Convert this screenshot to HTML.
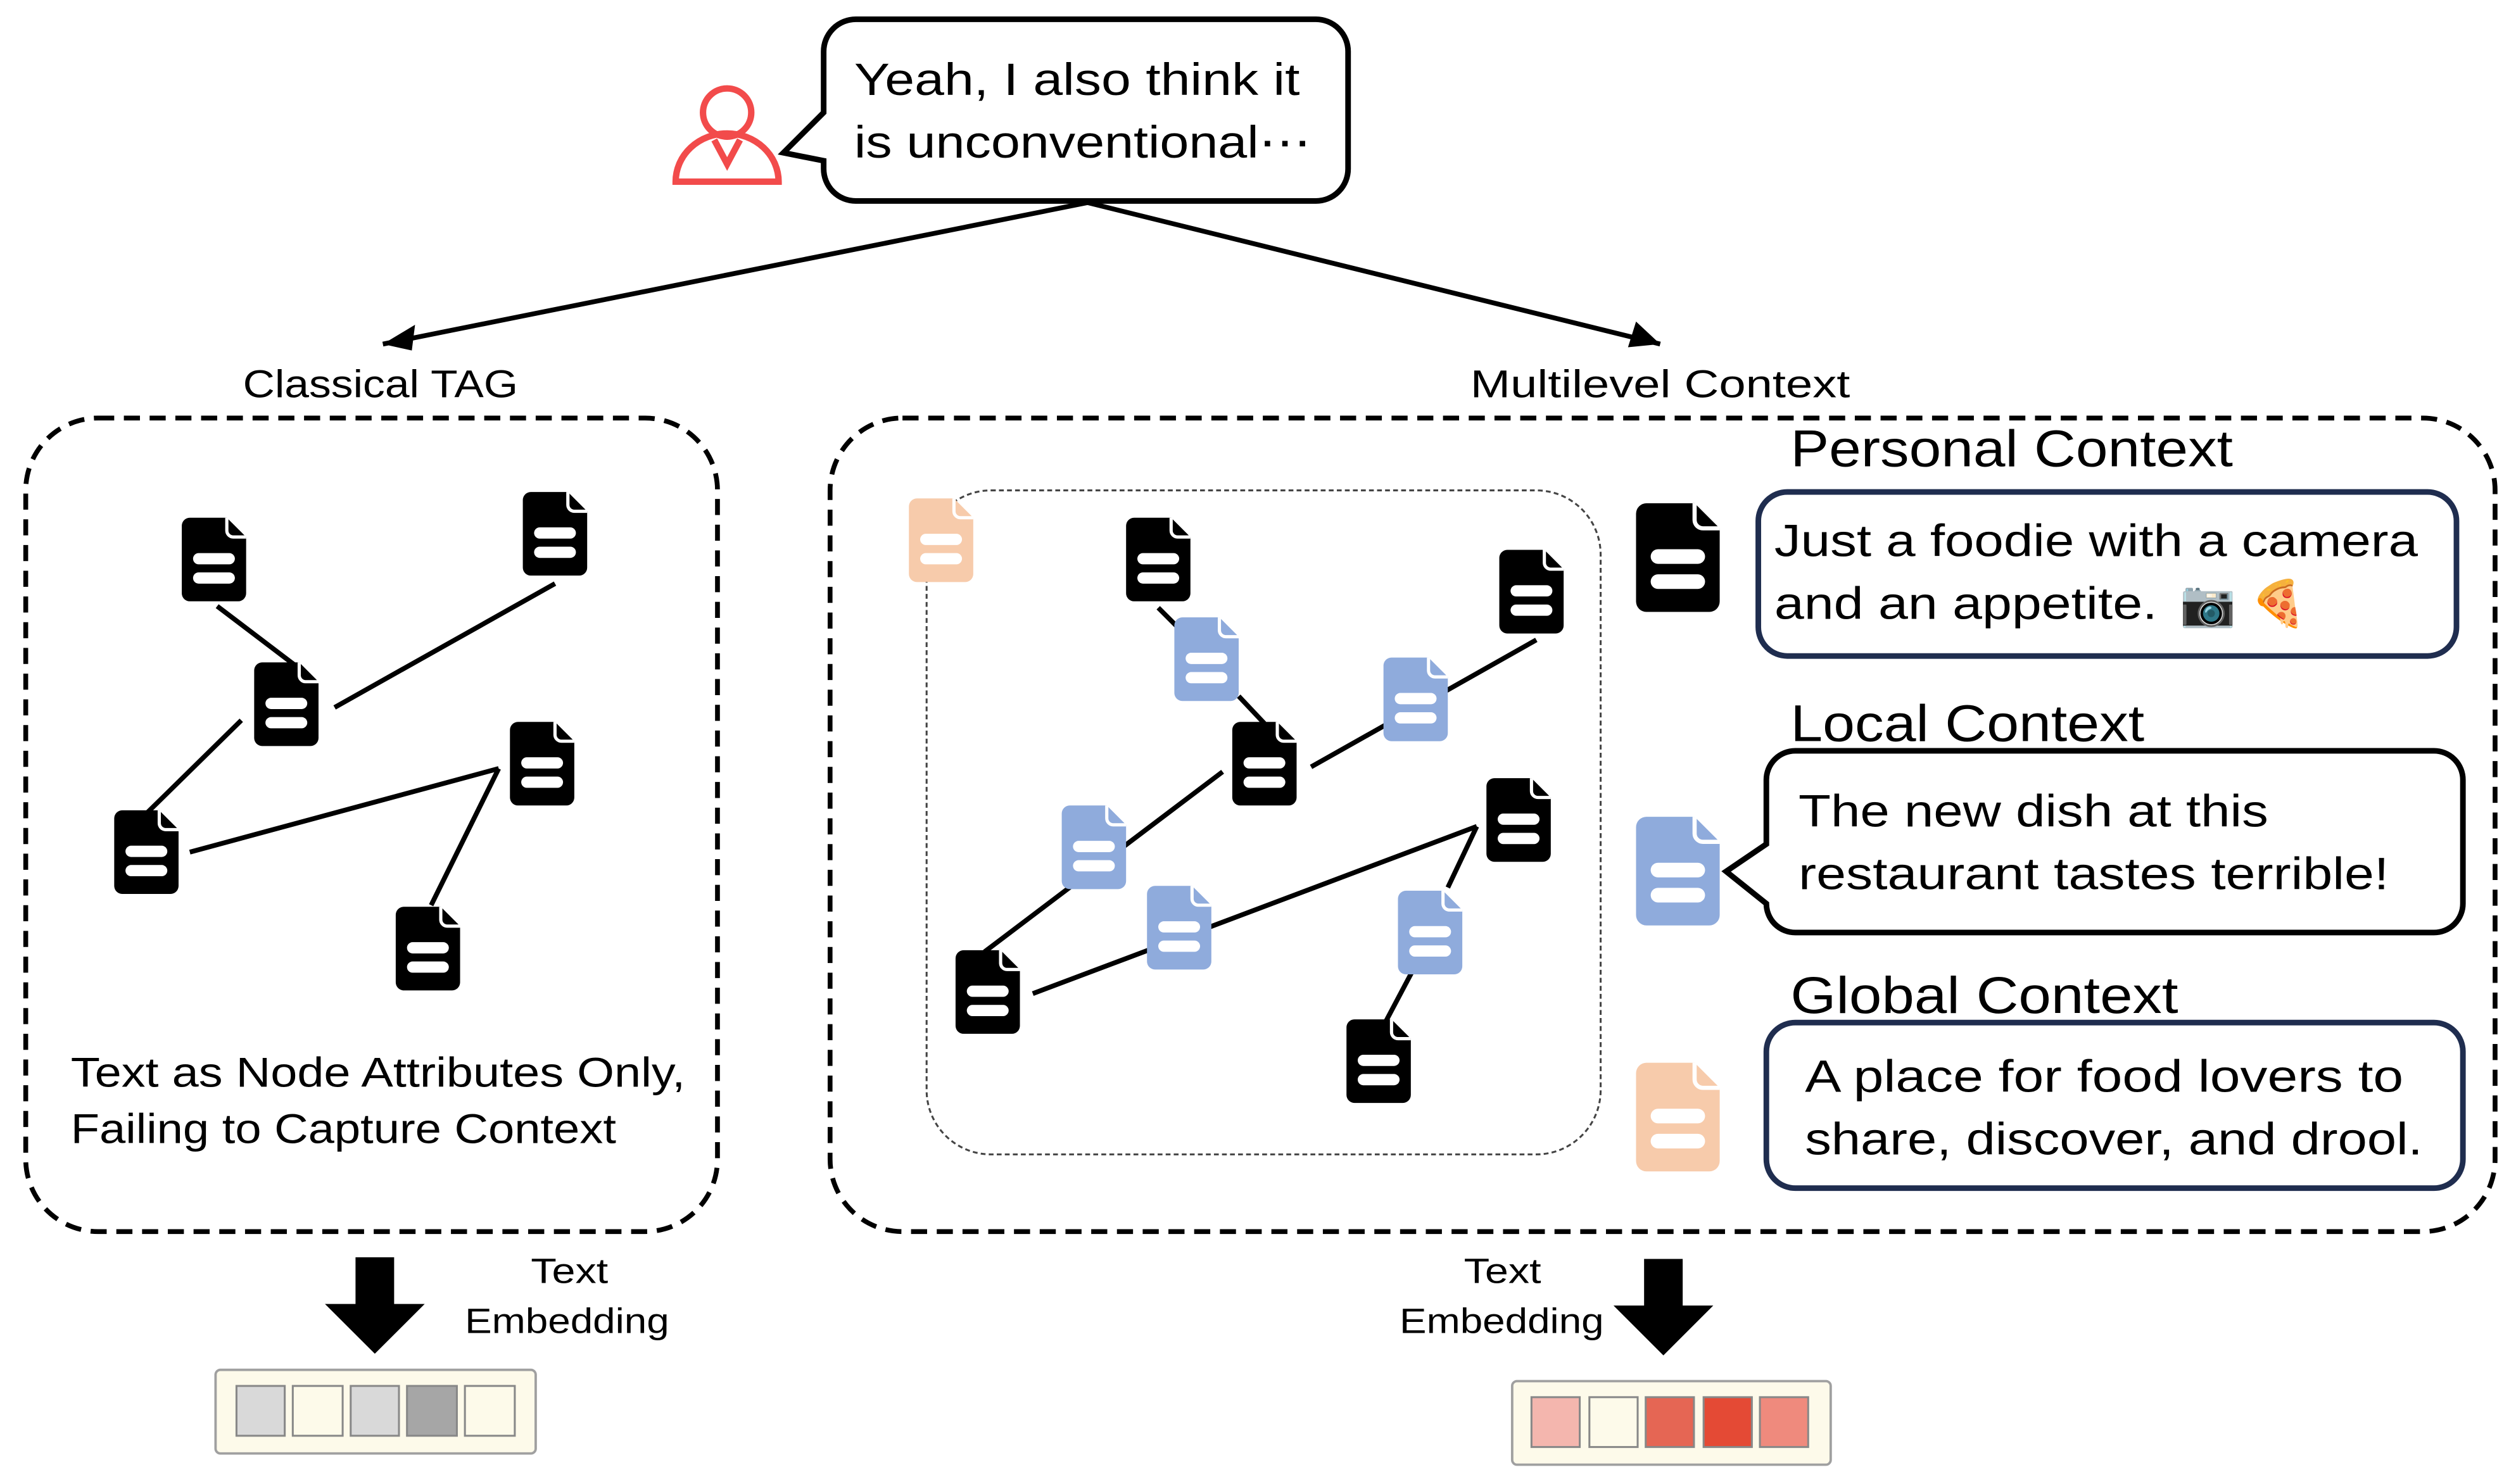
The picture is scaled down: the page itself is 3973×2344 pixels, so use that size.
<!DOCTYPE html>
<html><head><meta charset="utf-8"><style>
html,body{margin:0;padding:0;background:#fff}
svg{display:block}
text{font-family:"Liberation Sans","DejaVu Sans",sans-serif}
</style></head><body>
<svg width="3973" height="2344" viewBox="0 0 1564 923" preserveAspectRatio="none" xmlns="http://www.w3.org/2000/svg">
<defs>
<g id="doc">
<path d="M5,0 H28 L40,12 V47 a5,5 0 0 1 -5,5 H5 a5,5 0 0 1 -5,-5 V5 a5,5 0 0 1 5,-5Z"/>
<path d="M28,0 V8 a4,4 0 0 0 4,4 H40" fill="none" stroke="#fff" stroke-width="2"/>
<rect x="7" y="22" width="26" height="7" rx="3.5" fill="#fff"/>
<rect x="7" y="34" width="26" height="7" rx="3.5" fill="#fff"/>
</g>
</defs>

<!-- person icon -->
<g fill="none" stroke="#f24b4b" stroke-width="4">
<circle cx="452" cy="70" r="15"/>
<path d="M420,113 A32,30 0 0 1 484,113 Z"/>
<path d="M444,87 L452,102 L460,87"/>
</g>
<!-- speech bubble -->
<path d="M532,12 H818 a20,20 0 0 1 20,20 V105 a20,20 0 0 1 -20,20 H532 a20,20 0 0 1 -20,-20 V100 L487,95 L512,70 V32 a20,20 0 0 1 20,-20Z" fill="#fff" stroke="#000" stroke-width="3.5"/>
<text x="531" y="59" font-size="28" textLength="277" lengthAdjust="spacingAndGlyphs">Yeah, I also think it</text>
<text x="531" y="98" font-size="28" textLength="284" lengthAdjust="spacingAndGlyphs">is unconventional⋯</text>

<!-- arrows -->
<path d="M676,126 L238,214" stroke="#000" stroke-width="3"/>
<path d="M676,126 L1032,214" stroke="#000" stroke-width="3"/>
<path d="M238,214 L258,202 L256,218Z" fill="#000"/>
<path d="M1032,214 L1012,216 L1017,200Z" fill="#000"/>

<text x="151" y="247" font-size="24" textLength="171" lengthAdjust="spacingAndGlyphs">Classical TAG</text>
<text x="914" y="247" font-size="24" textLength="236" lengthAdjust="spacingAndGlyphs">Multilevel Context</text>

<!-- dashed boxes -->
<rect x="16" y="260" width="430" height="506" rx="45" fill="none" stroke="#000" stroke-width="3" stroke-dasharray="10,6"/>
<rect x="516" y="260" width="1035" height="506" rx="45" fill="none" stroke="#000" stroke-width="3" stroke-dasharray="10,6"/>
<rect x="576" y="305" width="419" height="413" rx="40" fill="none" stroke="#444" stroke-width="1.2" stroke-dasharray="3,2"/>

<!-- left graph -->
<g stroke="#000" stroke-width="3">
<line x1="135" y1="377" x2="185" y2="415"/>
<line x1="208" y1="440" x2="345" y2="363"/>
<line x1="150" y1="448" x2="92" y2="505"/>
<line x1="118" y1="530" x2="310" y2="478"/>
<line x1="310" y1="478" x2="268" y2="563"/>
</g>
<g fill="#000">
<use href="#doc" transform="translate(113,322)"/>
<use href="#doc" transform="translate(325,306)"/>
<use href="#doc" transform="translate(158,412)"/>
<use href="#doc" transform="translate(317,449)"/>
<use href="#doc" transform="translate(71,504)"/>
<use href="#doc" transform="translate(246,564)"/>
</g>
<text x="44" y="676" font-size="26" textLength="382" lengthAdjust="spacingAndGlyphs">Text as Node Attributes Only,</text>
<text x="44" y="711" font-size="26" textLength="339" lengthAdjust="spacingAndGlyphs">Failing to Capture Context</text>

<!-- right graph -->
<g stroke="#000" stroke-width="3">
<line x1="720" y1="378" x2="735" y2="393"/>
<line x1="770" y1="433" x2="786" y2="450"/>
<line x1="815" y1="477" x2="955" y2="398"/>
<line x1="760" y1="480" x2="612" y2="592"/>
<line x1="642" y1="618" x2="918" y2="514"/>
<line x1="918" y1="514" x2="900" y2="552"/>
<line x1="878" y1="604" x2="860" y2="638"/>
</g>
<use href="#doc" fill="#f7cbab" transform="translate(565,310)"/>
<g fill="#000">
<use href="#doc" transform="translate(700,322)"/>
<use href="#doc" transform="translate(932,342)"/>
<use href="#doc" transform="translate(766,449)"/>
<use href="#doc" transform="translate(924,484)"/>
<use href="#doc" transform="translate(594,591)"/>
<use href="#doc" transform="translate(837,634)"/>
</g>
<g fill="#8fabdc">
<use href="#doc" transform="translate(730,384)"/>
<use href="#doc" transform="translate(860,409)"/>
<use href="#doc" transform="translate(660,501)"/>
<use href="#doc" transform="translate(713,551)"/>
<use href="#doc" transform="translate(869,554)"/>
</g>

<!-- right side context -->
<use href="#doc" fill="#000" transform="translate(1017,313) scale(1.3)"/>
<use href="#doc" fill="#8fabdc" transform="translate(1017,508) scale(1.3)"/>
<use href="#doc" fill="#f7cbab" transform="translate(1017,661) scale(1.3)"/>

<text x="1113" y="290" font-size="32" textLength="275" lengthAdjust="spacingAndGlyphs">Personal Context</text>
<text x="1113" y="461" font-size="32" textLength="220" lengthAdjust="spacingAndGlyphs">Local Context</text>
<text x="1113" y="630" font-size="32" textLength="241" lengthAdjust="spacingAndGlyphs">Global Context</text>

<rect x="1093" y="306" width="434" height="102" rx="18" fill="#fff" stroke="#1f2d4f" stroke-width="3.5"/>
<text x="1103" y="346" font-size="28" textLength="400" lengthAdjust="spacingAndGlyphs">Just a foodie with a camera</text>
<text x="1103" y="385" font-size="28" textLength="238" lengthAdjust="spacingAndGlyphs">and an appetite.</text>
<text x="1355" y="385" font-size="28">📷</text>
<text x="1399" y="385" font-size="28">🍕</text>

<path d="M1116,467 H1513 a18,18 0 0 1 18,18 V562 a18,18 0 0 1 -18,18 H1116 a18,18 0 0 1 -18,-18 L1073,542 L1098,525 V485 a18,18 0 0 1 18,-18Z" fill="#fff" stroke="#000" stroke-width="3.5"/>
<text x="1118" y="514" font-size="28" textLength="292" lengthAdjust="spacingAndGlyphs">The new dish at this</text>
<text x="1118" y="553" font-size="28" textLength="367" lengthAdjust="spacingAndGlyphs">restaurant tastes terrible!</text>

<rect x="1098" y="636" width="433" height="103" rx="18" fill="#fff" stroke="#1f2d4f" stroke-width="3.5"/>
<text x="1122" y="679" font-size="28" textLength="372" lengthAdjust="spacingAndGlyphs">A place for food lovers to</text>
<text x="1122" y="718" font-size="28" textLength="384" lengthAdjust="spacingAndGlyphs">share, discover, and drool.</text>

<!-- down arrows -->
<path d="M221,782 H245 V811 H264 L233,842 L202,811 H221Z" fill="#000"/>
<path d="M1022,783 H1046 V812 H1065 L1034,843 L1003,812 H1022Z" fill="#000"/>
<text x="330" y="798" font-size="22" textLength="48" lengthAdjust="spacingAndGlyphs">Text</text>
<text x="289" y="829" font-size="22" textLength="127" lengthAdjust="spacingAndGlyphs">Embedding</text>
<text x="910" y="798" font-size="22" textLength="48" lengthAdjust="spacingAndGlyphs">Text</text>
<text x="870" y="829" font-size="22" textLength="127" lengthAdjust="spacingAndGlyphs">Embedding</text>

<!-- embeddings -->
<rect x="134" y="852" width="199" height="52" rx="3" fill="#fdfaea" stroke="#a0a0a0" stroke-width="1.5"/>
<g stroke="#888" stroke-width="1.2">
<rect x="147" y="862" width="30" height="31" fill="#d9d9d9"/>
<rect x="182" y="862" width="31" height="31" fill="#fdfaea"/>
<rect x="218" y="862" width="30" height="31" fill="#d9d9d9"/>
<rect x="253" y="862" width="31" height="31" fill="#a6a6a6"/>
<rect x="289" y="862" width="31" height="31" fill="#fdfaea"/>
</g>
<rect x="940" y="859" width="198" height="52" rx="3" fill="#fdfaea" stroke="#a0a0a0" stroke-width="1.5"/>
<g stroke="#888" stroke-width="1.2">
<rect x="952" y="869" width="30" height="31" fill="#f4b6ae"/>
<rect x="988" y="869" width="30" height="31" fill="#fdfaea"/>
<rect x="1023" y="869" width="30" height="31" fill="#e56654"/>
<rect x="1059" y="869" width="30" height="31" fill="#e44a35"/>
<rect x="1094" y="869" width="30" height="31" fill="#ef8a7d"/>
</g>
</svg>
</body></html>
